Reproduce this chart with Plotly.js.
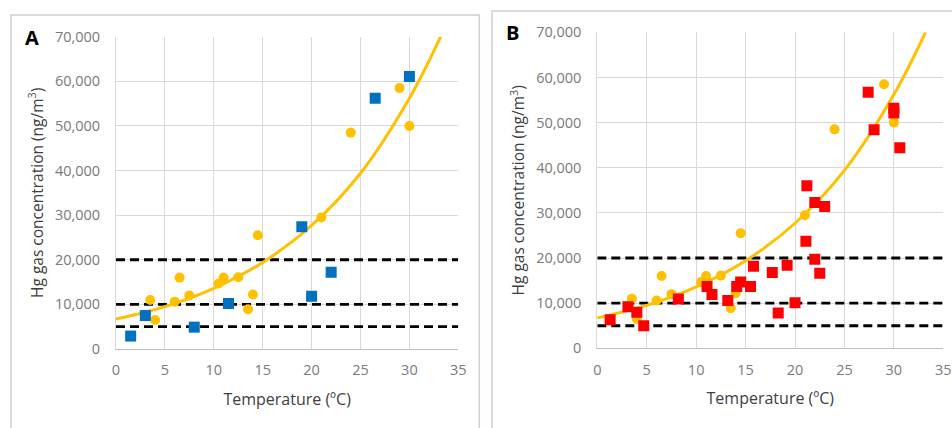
<!DOCTYPE html>
<html><head><meta charset="utf-8">
<script src="https://cdn.plot.ly/plotly-3.0.1.min.js"></script>
<style>html,body{margin:0;padding:0;background:#fff;} #chart{width:952px;height:428px;}</style>
</head><body><div id="chart"></div>
<script>
// Data
const circleTemp = [3.5, 4, 6.5, 6, 7.5, 10.5, 11, 12.5, 13.5, 14, 14.5, 21, 24, 29, 30];
const circleHg   = [11000, 6500, 16000, 10600, 12000, 14700, 16000, 16100, 8900, 12200, 25500, 29500, 48500, 58500, 50000];
const blueTemp = [1.5, 3, 8, 11.5, 19, 20, 22, 26.5, 30];
const blueHg   = [2900, 7500, 4900, 10200, 27400, 11800, 17200, 56200, 61100];
const redTemp = [1.3, 3.1, 4, 4.7, 8.2, 11.1, 11.6, 13.2, 14.1, 14.5, 15.5, 15.8, 17.7, 18.3, 19.2, 20, 21.1, 21.2, 22, 22, 22.5, 23, 27.4, 28, 30, 30, 30.6];
const redHg   = [6300, 9200, 8000, 5000, 10900, 13700, 11900, 10600, 13700, 14700, 13700, 18200, 16800, 7800, 18400, 10100, 23700, 36000, 32300, 19700, 16600, 31400, 56700, 48400, 53200, 52100, 44400];
const trendTemp = [0, 5, 10, 15, 20, 25, 30, 33.2];
const trendHg   = [6700, 9500, 13600, 19400, 27700, 39400, 56200, 70000];
const thresholds = [5000, 10000, 20000];
const xTicks = [0, 5, 10, 15, 20, 25, 30, 35];
const yTicks = [0, 10000, 20000, 30000, 40000, 50000, 60000, 70000];
const panelLabels = ['A', 'B'];
const xTitle = 'Temperature (ºC)';
const yTitle = 'Hg gas concentration (ng/m<sup>3</sup>)';

const W = 952, H = 428;
const yellow = '#FFC000', blue = '#0070C0', red = '#FF0000';
const FONT = 'Open Sans';

function panelTraces(xa, ya, sqX, sqY, sqColor) {
  const t = [];
  thresholds.forEach(v => t.push({
    x: [xTicks[0], xTicks[xTicks.length - 1]], y: [v, v], xaxis: xa, yaxis: ya,
    mode: 'lines', line: {color: '#000', width: 2.8, dash: '9px,5px'}, hoverinfo: 'skip', showlegend: false
  }));
  t.push({x: trendTemp, y: trendHg, xaxis: xa, yaxis: ya, mode: 'lines',
    line: {color: yellow, width: 3, shape: 'spline'}, showlegend: false});
  t.push({x: circleTemp, y: circleHg, xaxis: xa, yaxis: ya, mode: 'markers',
    marker: {color: yellow, size: 10, symbol: 'circle'}, showlegend: false});
  t.push({x: sqX, y: sqY, xaxis: xa, yaxis: ya, mode: 'markers',
    marker: {color: sqColor, size: 11, symbol: 'square'}, showlegend: false});
  return t;
}

const data = [].concat(
  panelTraces('x', 'y', blueTemp, blueHg, blue),
  panelTraces('x2', 'y2', redTemp, redHg, red)
);

function px(v) { return v / W; }
function py(v) { return 1 - v / H; }

function xAxis(domain, anchor) {
  return {
    domain: domain, anchor: anchor, range: [0, 35], tickvals: xTicks,
    showgrid: true, gridcolor: '#D9D9D9', gridwidth: 1, zeroline: false,
    showline: true, linecolor: '#BFBFBF', linewidth: 1, ticks: '',
    ticklabelstandoff: 8,
    tickfont: {family: FONT, size: 14.5, color: '#7A7A7A'},
    title: {text: xTitle, font: {family: FONT, size: 16, color: '#404040'}, standoff: 15},
    fixedrange: true
  };
}
function yAxis(domain, anchor) {
  return {
    domain: domain, anchor: anchor, range: [0, 70000], tickvals: yTicks, tickformat: ',d',
    showgrid: true, gridcolor: '#D9D9D9', gridwidth: 1, zeroline: false,
    showline: true, linecolor: '#D9D9D9', linewidth: 1, ticks: '',
    ticklabelstandoff: 12,
    tickfont: {family: FONT, size: 14.5, color: '#7A7A7A'},
    title: {text: yTitle, font: {family: FONT, size: 15.5, color: '#404040'}, standoff: 7},
    fixedrange: true
  };
}

const layout = {
  width: W, height: H,
  margin: {l: 0, r: 0, t: 0, b: 0},
  paper_bgcolor: '#fff', plot_bgcolor: '#fff',
  showlegend: false,
  xaxis: xAxis([px(116), px(458.3)], 'y'),
  yaxis: yAxis([py(349), py(36.7)], 'x'),
  xaxis2: xAxis([px(597.3), px(943.3)], 'y2'),
  yaxis2: yAxis([py(348.3), py(32.3)], 'x2'),
  shapes: [
    {type: 'rect', xref: 'paper', yref: 'paper', x0: px(11), x1: px(479.3), y0: py(440), y1: py(15),
     line: {color: '#D0D0D0', width: 1.5}, layer: 'below'},
    {type: 'rect', xref: 'paper', yref: 'paper', x0: px(492), x1: px(970), y0: py(440), y1: py(11),
     line: {color: '#D0D0D0', width: 1.5}, layer: 'below'}
  ],
  annotations: [
    {text: '<b>' + panelLabels[0] + '</b>', xref: 'paper', yref: 'paper', x: px(32), y: py(37),
     xanchor: 'center', yanchor: 'middle', showarrow: false, font: {family: FONT, size: 20, color: '#000'}},
    {text: '<b>' + panelLabels[1] + '</b>', xref: 'paper', yref: 'paper', x: px(512), y: py(32),
     xanchor: 'center', yanchor: 'middle', showarrow: false, font: {family: FONT, size: 20, color: '#000'}}
  ]
};

Plotly.newPlot('chart', data, layout, {displayModeBar: false, staticPlot: true});
</script>
</body></html>
